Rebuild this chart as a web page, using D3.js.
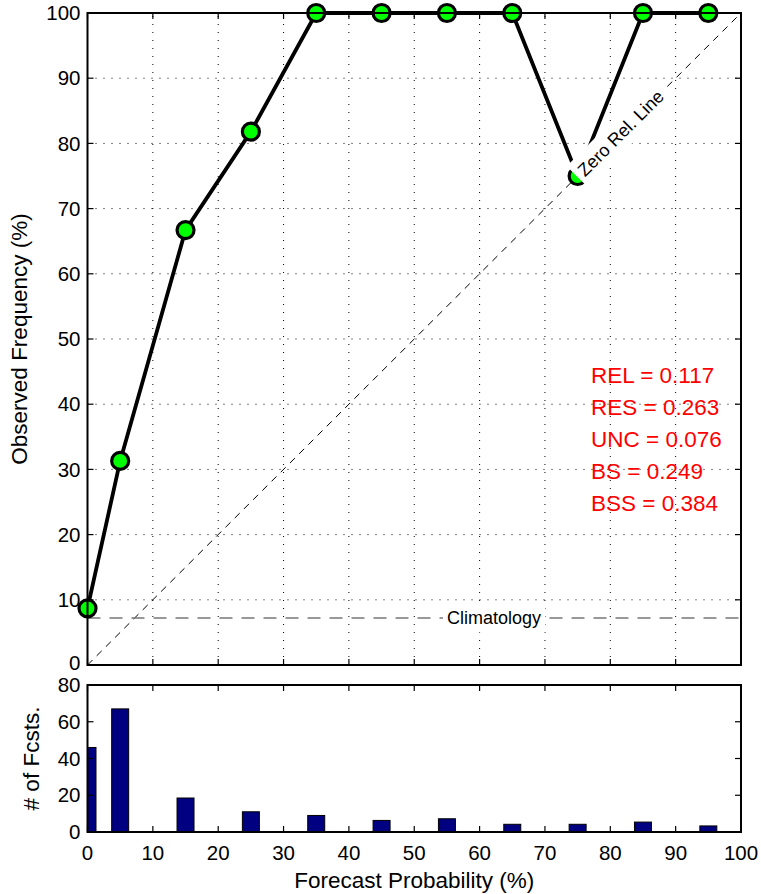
<!DOCTYPE html>
<html><head><meta charset="utf-8">
<script src="https://cdn.jsdelivr.net/npm/d3@7"></script>
<style>
body{margin:0;background:#fff;}
svg{display:block;font-family:"Liberation Sans",Arial,Helvetica,sans-serif;}
</style></head>
<body><svg id="c" width="761" height="894"></svg>
<script>
const probs = [0, 5, 15, 25, 35, 45, 55, 65, 75, 85, 95];
const obsFreq = [8.7, 31.3, 66.7, 81.8, 100, 100, 100, 100, 75, 100, 100];
const counts = [46, 67, 18.5, 11, 9, 6.3, 7.2, 4.2, 4.2, 5.4, 3.3];
const climatology = 7.2;
const xTicks = [0,10,20,30,40,50,60,70,80,90,100];
const yTicksTop = [0,10,20,30,40,50,60,70,80,90,100];
const yTicksBot = [0,20,40,60,80];
const stats = ["REL = 0.117","RES = 0.263","UNC = 0.076","BS = 0.249","BSS = 0.384"];

(function(){
const svg = d3.select("#c");
const x = d3.scaleLinear().domain([0,100]).range([87.5,741]);
const yT = d3.scaleLinear().domain([0,100]).range([665,13]);
const yB = d3.scaleLinear().domain([0,80]).range([832,685]);
const FS = 20.5, FL = 22.5;

// ---------- top panel ----------
const gTop = svg.append("g");
gTop.selectAll(".gx").data(xTicks.slice(1,-1)).join("line")
  .attr("x1",d=>x(d)).attr("x2",d=>x(d)).attr("y1",yT(0)).attr("y2",yT(100))
  .attr("stroke","#000").attr("stroke-width",1).attr("stroke-dasharray","1,7");
gTop.selectAll(".gy").data(yTicksTop.slice(1,-1)).join("line")
  .attr("y1",d=>yT(d)).attr("y2",d=>yT(d)).attr("x1",x(0)).attr("x2",x(100))
  .attr("stroke","#000").attr("stroke-width",1).attr("stroke-dasharray","1,7");
gTop.append("line").attr("x1",x(0)).attr("y1",yT(0)).attr("x2",x(100)).attr("y2",yT(100))
  .attr("stroke","#000").attr("stroke-width",1).attr("stroke-dasharray","7,6");
gTop.append("line").attr("x1",x(0)).attr("x2",x(100)).attr("y1",yT(climatology)).attr("y2",yT(climatology))
  .attr("stroke","#777").attr("stroke-width",1.6).attr("stroke-dasharray","13,9");
const pts = probs.map((p,i)=>[p,obsFreq[i]]);
gTop.append("path").datum(pts)
  .attr("d",d3.line().x(d=>x(d[0])).y(d=>yT(d[1])))
  .attr("fill","none").attr("stroke","#000").attr("stroke-width",3.8).attr("stroke-linejoin","round");
gTop.selectAll(".m").data(pts).join("circle")
  .attr("cx",d=>x(d[0])).attr("cy",d=>yT(d[1])).attr("r",8.5)
  .attr("fill","#00ff00").attr("stroke","#000").attr("stroke-width",3.2);

function bgText(g, tx, ty, rot, txt, size, anchor, pad){
  const gg = g.append("g").attr("transform",`translate(${tx},${ty}) rotate(${rot})`);
  const rect = gg.append("rect").attr("fill","#fff");
  const t = gg.append("text").text(txt).attr("font-size",size).attr("fill","#000")
    .attr("text-anchor",anchor).attr("dy","0.35em");
  const bb = t.node().getBBox();
  rect.attr("x",bb.x-pad).attr("y",bb.y-pad).attr("width",bb.width+2*pad).attr("height",bb.height+2*pad);
  return gg;
}
const ang = -Math.atan2(yT(0)-yT(100), x(100)-x(0))*180/Math.PI;
bgText(gTop, x(75)+3, yT(75)-3, ang, "Zero Rel. Line", 18, "start", 5);
bgText(gTop, x(62.2), yT(climatology), 0, "Climatology", 18, "middle", 4);

gTop.selectAll(".st").data(stats).join("text")
  .attr("x",591).attr("y",(d,i)=>383+i*32).text(d=>d)
  .attr("fill","#ff0000").attr("font-size",FL);

function frame(g, ys, yTicks, yDom, shift0){
  g.append("rect").attr("x",x(0)).attr("y",ys(yDom[1])).attr("width",x(100)-x(0)).attr("height",ys(yDom[0])-ys(yDom[1]))
    .attr("fill","none").attr("stroke","#000").attr("stroke-width",2);
  const tl = 6;
  xTicks.forEach(t=>{
    g.append("line").attr("x1",x(t)).attr("x2",x(t)).attr("y1",ys(yDom[0])).attr("y2",ys(yDom[0])-tl).attr("stroke","#000").attr("stroke-width",1.2);
    g.append("line").attr("x1",x(t)).attr("x2",x(t)).attr("y1",ys(yDom[1])).attr("y2",ys(yDom[1])+tl).attr("stroke","#000").attr("stroke-width",1.2);
  });
  yTicks.forEach(t=>{
    g.append("line").attr("x1",x(0)).attr("x2",x(0)+tl).attr("y1",ys(t)).attr("y2",ys(t)).attr("stroke","#000").attr("stroke-width",1.2);
    g.append("line").attr("x1",x(100)).attr("x2",x(100)-tl).attr("y1",ys(t)).attr("y2",ys(t)).attr("stroke","#000").attr("stroke-width",1.2);
  });
  g.selectAll(".yl").data(yTicks).join("text").attr("x",x(0)-7)
    .attr("y",d=>ys(d) + (d===yDom[0] ? shift0 : 0)).attr("dy","0.35em")
    .attr("text-anchor","end").attr("font-size",FS).text(d=>d);
}
frame(gTop, yT, yTicksTop, [0,100], -2);
svg.append("text").attr("transform",`translate(27,${(yT(0)+yT(100))/2}) rotate(-90)`)
  .attr("text-anchor","middle").attr("font-size",FL).text("Observed Frequency (%)");

// ---------- bottom panel ----------
const gBot = svg.append("g");
const bw = x(2.6)-x(0);
gBot.append("clipPath").attr("id","clipB").append("rect")
  .attr("x",x(0)).attr("y",yB(80)).attr("width",x(100)-x(0)).attr("height",yB(0)-yB(80));
gBot.append("g").attr("clip-path","url(#clipB)").selectAll("rect").data(probs).join("rect")
  .attr("x",d=>x(d)-bw/2).attr("width",bw)
  .attr("y",(d,i)=>yB(counts[i])).attr("height",(d,i)=>yB(0)-yB(counts[i]))
  .attr("fill","#000080").attr("stroke","#000").attr("stroke-width",1);
frame(gBot, yB, yTicksBot, [0,80], 0);
gBot.selectAll(".xl").data(xTicks).join("text").attr("x",d=>x(d)).attr("y",yB(0)+28)
  .attr("text-anchor","middle").attr("font-size",FS).text(d=>d);
svg.append("text").attr("x",(x(0)+x(100))/2 - 0).attr("y",888).attr("text-anchor","middle")
  .attr("font-size",FL).text("Forecast Probability (%)");
svg.append("text").attr("transform",`translate(39,${(yB(0)+yB(80))/2}) rotate(-90)`)
  .attr("text-anchor","middle").attr("font-size",FL).text("# of Fcsts.");
})();
</script></body></html>
